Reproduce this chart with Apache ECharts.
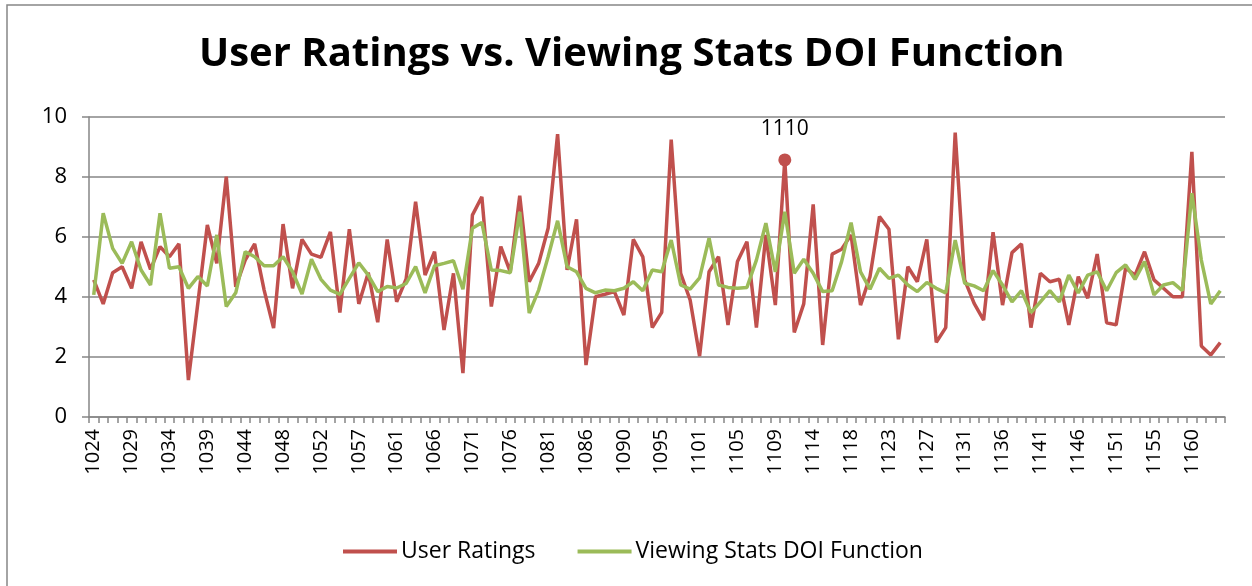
<!DOCTYPE html>
<html>
<head>
<meta charset="utf-8">
<script src="https://cdn.jsdelivr.net/npm/echarts@6/dist/echarts.min.js"></script>
<style>
  html, body { margin: 0; padding: 0; background: #fff; }
  #main { width: 1252px; height: 586px; }
</style>
</head>
<body>
<div id="main"></div>
<script>
// movie ids on the category axis
var ids = [
    1024, 1025, 1026, 1027, 1029, 1030, 1031, 1032, 1034, 1035, 1036, 1037,
    1039, 1040, 1041, 1042, 1044, 1045, 1046, 1047, 1048, 1049, 1050, 1051,
    1052, 1053, 1054, 1055, 1057, 1058, 1059, 1060, 1061, 1062, 1063, 1064,
    1066, 1067, 1068, 1069, 1071, 1072, 1073, 1074, 1076, 1077, 1078, 1079,
    1081, 1082, 1083, 1084, 1086, 1087, 1088, 1089, 1090, 1091, 1092, 1093,
    1095, 1096, 1097, 1099, 1101, 1102, 1103, 1104, 1105, 1106, 1107, 1108,
    1109, 1110, 1111, 1112, 1114, 1115, 1116, 1117, 1118, 1119, 1120, 1121,
    1123, 1124, 1125, 1126, 1127, 1128, 1129, 1130, 1131, 1132, 1133, 1134,
    1136, 1137, 1138, 1139, 1141, 1142, 1143, 1144, 1146, 1147, 1148, 1149,
    1151, 1152, 1153, 1154, 1155, 1156, 1157, 1158, 1160, 1161, 1162, 1163
];

var userRatings = [
    4.57, 3.77, 4.81, 5.01, 4.29, 5.84, 4.92, 5.68, 5.34, 5.77, 1.23, 3.8,
    6.4, 5.12, 8.01, 4.34, 5.23, 5.77, 4.23, 2.96, 6.43, 4.29, 5.92, 5.43,
    5.32, 6.17, 3.48, 6.26, 3.77, 4.81, 3.16, 5.92, 3.84, 4.6, 7.18, 4.73,
    5.51, 2.9, 4.79, 1.46, 6.73, 7.34, 3.68, 5.68, 4.84, 7.38, 4.51, 5.12,
    6.29, 9.43, 4.9, 6.59, 1.73, 4.01, 4.09, 4.18, 3.4, 5.92, 5.34, 2.98,
    3.49, 9.25, 4.79, 3.9, 2.03, 4.84, 5.34, 3.07, 5.18, 5.84, 2.98, 6.07,
    3.73, 8.57, 2.82, 3.77, 7.09, 2.4, 5.43, 5.59, 6.07, 3.73, 4.68, 6.68,
    6.26, 2.59, 5.01, 4.51, 5.92, 2.49, 2.98, 9.48, 4.57, 3.79, 3.23, 6.16,
    3.73, 5.48, 5.77, 2.98, 4.79, 4.51, 4.59, 3.07, 4.68, 3.96, 5.43, 3.14,
    3.07, 4.96, 4.73, 5.51, 4.57, 4.29, 4.01, 4.01, 8.84, 2.37, 2.07, 2.48
];

var viewingDoi = [
    4.07, 6.79, 5.62, 5.12, 5.84, 4.9, 4.4, 6.79, 4.96, 5.01, 4.29, 4.68,
    4.37, 6.07, 3.68, 4.14, 5.51, 5.34, 5.04, 5.04, 5.34, 4.84, 4.1, 5.26,
    4.59, 4.23, 4.09, 4.62, 5.14, 4.73, 4.18, 4.35, 4.3, 4.45, 5.01, 4.14,
    5.04, 5.12, 5.21, 4.26, 6.29, 6.48, 4.9, 4.88, 4.81, 6.84, 3.46, 4.23,
    5.34, 6.54, 5.01, 4.84, 4.29, 4.14, 4.23, 4.21, 4.29, 4.51, 4.21, 4.9,
    4.84, 5.9, 4.4, 4.26, 4.64, 5.96, 4.4, 4.32, 4.29, 4.32, 5.23, 6.46,
    4.84, 6.84, 4.79, 5.26, 4.79, 4.18, 4.21, 5.18, 6.48, 4.84, 4.26, 4.96,
    4.62, 4.73, 4.4, 4.18, 4.48, 4.29, 4.14, 5.9, 4.46, 4.37, 4.21, 4.88,
    4.4, 3.84, 4.21, 3.48, 3.84, 4.21, 3.84, 4.73, 4.14, 4.73, 4.84, 4.21,
    4.81, 5.07, 4.59, 5.18, 4.07, 4.4, 4.48, 4.21, 7.46, 5.23, 3.77, 4.21
];

var highlightId = 1110;

var font = '"Open Sans", "Liberation Sans", sans-serif';

var ratingData = userRatings.map(function (v, i) {
    if (ids[i] === highlightId) {
        return {
            value: v,
            symbol: 'circle',
            symbolSize: 13,
            label: {
                show: true,
                position: 'top',
                distance: 14,
                formatter: String(highlightId),
                color: '#000',
                fontFamily: font,
                fontSize: 21
            }
        };
    }
    return v;
});

var myChart = echarts.init(document.getElementById('main'), null, {renderer: 'canvas'});
var option = {
    animation: false,
    backgroundColor: '#fff',
    title: {
        text: 'User Ratings vs. Viewing Stats DOI Function',
        left: 199,
        top: 35,
        padding: 0,
        textStyle: {
            fontFamily: font,
            fontWeight: 'bold',
            fontSize: 40,
            color: '#000'
        }
    },
    graphic: [
        {
            type: 'rect',
            shape: {x: 7, y: 5, width: 1300, height: 700},
            style: {fill: null, stroke: '#868686', lineWidth: 1.5},
            silent: true
        }
    ],
    legend: {
        bottom: 23,
        left: 343,
        padding: 0,
        itemWidth: 54,
        itemHeight: 4,
        itemGap: 42,
        icon: 'rect',
        textStyle: {
            fontFamily: font,
            fontSize: 23,
            color: '#000',
            padding: [0, 0, 0, -1]
        },
        data: ['User Ratings', 'Viewing Stats DOI Function']
    },
    grid: {
        left: 89,
        right: 27,
        top: 117,
        bottom: 169
    },
    xAxis: {
        type: 'category',
        data: ids,
        boundaryGap: true,
        axisLine: {lineStyle: {color: '#868686', width: 1.5}},
        axisTick: {
            show: true,
            interval: 0,
            length: 6,
            lineStyle: {color: '#868686', width: 1.5}
        },
        axisLabel: {
            interval: 3,
            rotate: 90,
            margin: 12,
            color: '#000',
            fontFamily: font,
            fontSize: 20
        },
        splitLine: {show: false}
    },
    yAxis: {
        type: 'value',
        min: 0,
        max: 10,
        interval: 2,
        axisLine: {show: true, lineStyle: {color: '#868686', width: 1.5}},
        axisTick: {show: true, length: 7, lineStyle: {color: '#868686', width: 1.5}},
        axisLabel: {
            margin: 22,
            color: '#000',
            fontFamily: font,
            fontSize: 22
        },
        splitLine: {lineStyle: {color: '#868686', width: 1.5}}
    },
    series: [
        {
            name: 'User Ratings',
            type: 'line',
            data: ratingData,
            symbol: 'none',
            showSymbol: true,
            color: '#C0504D',
            lineStyle: {width: 3.5, color: '#C0504D'},
            itemStyle: {color: '#C0504D'},
            z: 2
        },
        {
            name: 'Viewing Stats DOI Function',
            type: 'line',
            data: viewingDoi,
            symbol: 'none',
            color: '#9BBB59',
            lineStyle: {width: 3.5, color: '#9BBB59'},
            itemStyle: {color: '#9BBB59'},
            z: 3
        }
    ]
};
myChart.setOption(option);
</script>
</body>
</html>
